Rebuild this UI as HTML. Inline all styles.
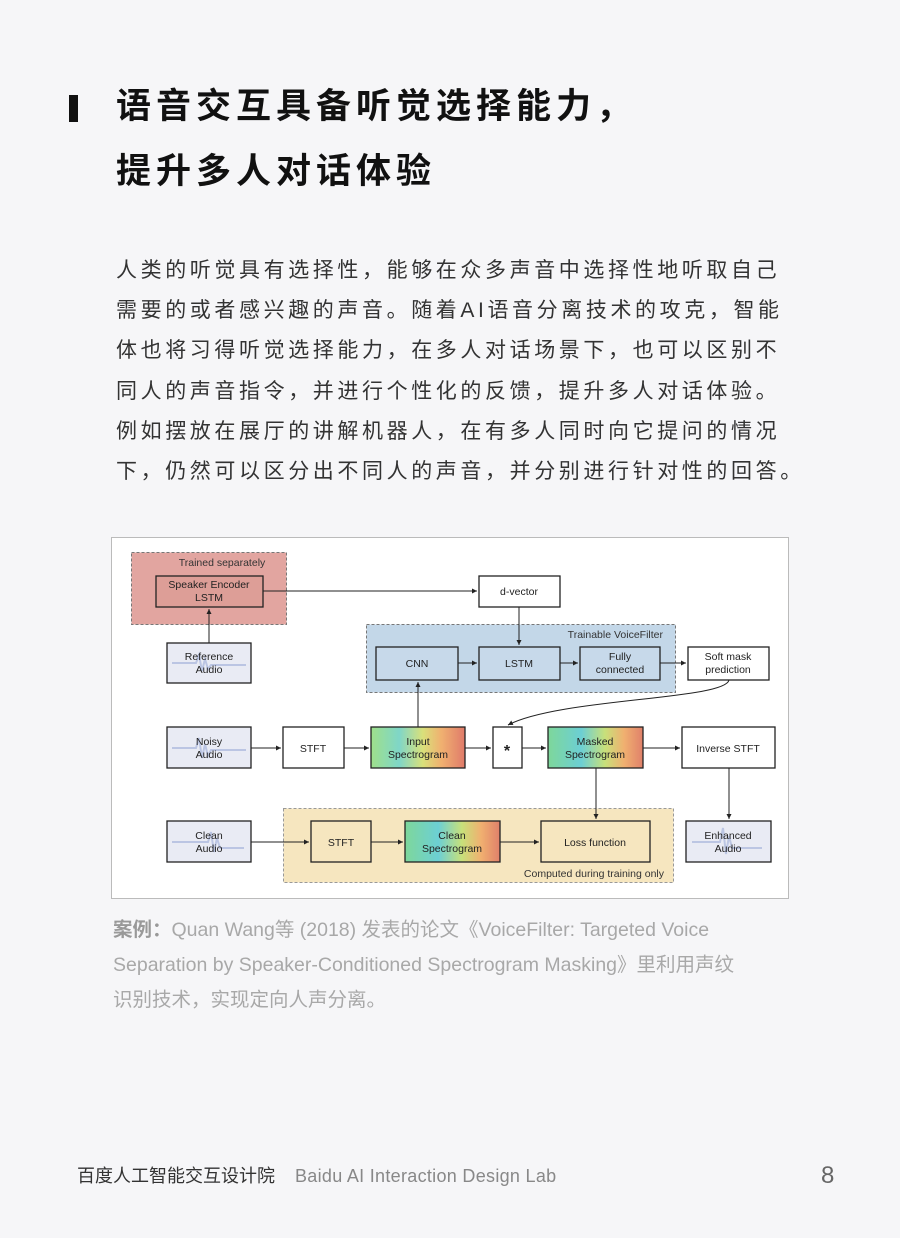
<!DOCTYPE html>
<html><head><meta charset="utf-8"><style>
html,body{margin:0;padding:0}
body{width:900px;height:1238px;background:#f6f6f8;position:relative;overflow:hidden;font-family:"Liberation Sans","Noto Sans CJK SC",sans-serif}
.bar{position:absolute;left:69px;top:95px;width:9px;height:27px;background:#111}
.t{position:absolute;left:116px;font-size:35px;font-weight:bold;color:#111;letter-spacing:5px;white-space:nowrap;line-height:40px}
.body{position:absolute;left:116px;top:251px;font-size:21px;color:#333;letter-spacing:3.6px;line-height:40.2px;white-space:nowrap}
.cap{position:absolute;left:113px;top:913px;font-size:19.5px;color:#a8a8a8;line-height:35px;white-space:nowrap}
.cap b{color:#999}
.foot{position:absolute;top:1163px;font-size:18px;white-space:nowrap;line-height:26px}
</style></head><body>
<div class="bar"></div>
<div class="t" style="top:87px">语音交互具备听觉选择能力，</div>
<div class="t" style="top:152px">提升多人对话体验</div>
<div class="body">人类的听觉具有选择性，能够在众多声音中选择性地听取自己<br>需要的或者感兴趣的声音。随着AI语音分离技术的攻克，智能<br>体也将习得听觉选择能力，在多人对话场景下，也可以区别不<br>同人的声音指令，并进行个性化的反馈，提升多人对话体验。<br>例如摆放在展厅的讲解机器人，在有多人同时向它提问的情况<br>下，仍然可以区分出不同人的声音，并分别进行针对性的回答。</div>

<svg style="position:absolute;left:0;top:0" width="900" height="1238" font-family="Liberation Sans, sans-serif" font-size="10.5">
<defs>
<linearGradient id="sp" x1="0" x2="1"><stop offset="0" stop-color="#9fe08a"/><stop offset="0.3" stop-color="#7fd6c8"/><stop offset="0.55" stop-color="#d9e07a"/><stop offset="0.75" stop-color="#f0b070"/><stop offset="1" stop-color="#e07a6a"/></linearGradient>
<linearGradient id="sp2" x1="0" x2="1"><stop offset="0" stop-color="#7ed79a"/><stop offset="0.35" stop-color="#6ccfd4"/><stop offset="0.6" stop-color="#c8e07a"/><stop offset="0.8" stop-color="#f0b070"/><stop offset="1" stop-color="#e0806a"/></linearGradient>
<marker id="a" markerWidth="6" markerHeight="6" refX="5" refY="3" orient="auto"><path d="M0,0.5L5,3L0,5.5z" fill="#222"/></marker>
</defs>
<rect x="111.5" y="537.5" width="677" height="361" fill="#fff" stroke="#bbb"/>
<rect x="131.5" y="552.5" width="155" height="72" fill="#e2a5a0" stroke="#777" stroke-dasharray="3,2"/>
<text x="222" y="566" text-anchor="middle" fill="#333">Trained separately</text>
<rect x="366.5" y="624.5" width="309" height="68" fill="#c3d7e8" stroke="#777" stroke-dasharray="3,2"/>
<text x="663" y="638" text-anchor="end" fill="#333">Trainable VoiceFilter</text>
<rect x="283.5" y="808.5" width="390" height="74" fill="#f6e6bf" stroke="#999" stroke-dasharray="3,2"/>
<text x="664" y="877" text-anchor="end" fill="#333">Computed during training only</text>
<g stroke="#222" stroke-width="1.3">
<rect x="156" y="576" width="107" height="31" fill="#dd9e97"/>
<rect x="479" y="576" width="81" height="31" fill="#fff"/>
<rect x="167" y="643" width="84" height="40" fill="#e9ebf4"/>
<rect x="376" y="647" width="82" height="33" fill="#c7d9ea"/>
<rect x="479" y="647" width="81" height="33" fill="#c7d9ea"/>
<rect x="580" y="647" width="80" height="33" fill="#c7d9ea"/>
<rect x="688" y="647" width="81" height="33" fill="#fff"/>
<rect x="167" y="727" width="84" height="41" fill="#e9ebf4"/>
<rect x="283" y="727" width="61" height="41" fill="#fff"/>
<rect x="371" y="727" width="94" height="41" fill="url(#sp)"/>
<rect x="493" y="727" width="29" height="41" fill="#fff"/>
<rect x="548" y="727" width="95" height="41" fill="url(#sp2)"/>
<rect x="682" y="727" width="93" height="41" fill="#fff"/>
<rect x="167" y="821" width="84" height="41" fill="#e9ebf4"/>
<rect x="311" y="821" width="60" height="41" fill="#f6e6bf"/>
<rect x="405" y="821" width="95" height="41" fill="url(#sp2)"/>
<rect x="541" y="821" width="109" height="41" fill="#f6e6bf"/>
<rect x="686" y="821" width="85" height="41" fill="#e9ebf4"/>
</g>
<g stroke="#a8b6dc" stroke-width="2" fill="none" opacity="0.7">
<path d="M172,663 h24 l3,-8 l3,16 l3,-12 l3,10 l3,-4 h35"/>
<path d="M172,748 h24 l3,-10 l3,20 l3,-14 l3,12 l3,-6 h35"/>
<path d="M172,842 h36 l3,-10 l3,20 l3,-14 l3,10 h24"/>
<path d="M692,842 h28 l3,-14 l3,26 l3,-18 l3,12 h30"/>
</g>
<g stroke="#222" stroke-width="1" fill="none" marker-end="url(#a)">
<path d="M263,591 H477"/>
<path d="M209,643 V609"/>
<path d="M519,607 V645"/>
<path d="M458,663 H477"/>
<path d="M560,663 H578"/>
<path d="M660,663 H686"/>
<path d="M418,727 V682"/>
<path d="M729,680 C725,700 560,698 508,725"/>
<path d="M251,748 H281"/>
<path d="M344,748 H369"/>
<path d="M465,748 H491"/>
<path d="M522,748 H546"/>
<path d="M643,748 H680"/>
<path d="M596,768 V819"/>
<path d="M729,768 V819"/>
<path d="M251,842 H309"/>
<path d="M371,842 H403"/>
<path d="M500,842 H539"/>
</g>
<g text-anchor="middle" fill="#222">
<text x="209" y="588">Speaker Encoder</text><text x="209" y="601">LSTM</text>
<text x="519" y="595">d-vector</text>
<text x="209" y="660">Reference</text><text x="209" y="673">Audio</text>
<text x="417" y="667">CNN</text><text x="519" y="667">LSTM</text>
<text x="620" y="660">Fully</text><text x="620" y="673">connected</text>
<text x="728" y="660">Soft mask</text><text x="728" y="673">prediction</text>
<text x="209" y="745">Noisy</text><text x="209" y="758">Audio</text>
<text x="313" y="752">STFT</text>
<text x="418" y="745">Input</text><text x="418" y="758">Spectrogram</text>
<text x="507" y="756" font-size="16" font-weight="bold">*</text>
<text x="595" y="745">Masked</text><text x="595" y="758">Spectrogram</text>
<text x="728" y="752">Inverse STFT</text>
<text x="209" y="839">Clean</text><text x="209" y="852">Audio</text>
<text x="341" y="846">STFT</text>
<text x="452" y="839">Clean</text><text x="452" y="852">Spectrogram</text>
<text x="595" y="846">Loss function</text>
<text x="728" y="839">Enhanced</text><text x="728" y="852">Audio</text>
</g>
</svg>

<div class="cap"><b>案例：</b>Quan Wang等 (2018) 发表的论文《VoiceFilter: Targeted Voice<br>Separation by Speaker-Conditioned Spectrogram Masking》里利用声纹<br>识别技术，实现定向人声分离。</div>
<div class="foot" style="left:77px;color:#333">百度人工智能交互设计院</div>
<div class="foot" style="left:295px;color:#888;letter-spacing:0.3px">Baidu AI Interaction Design Lab</div>
<div class="foot" style="left:821px;color:#666;font-size:24px">8</div>
</body></html>
